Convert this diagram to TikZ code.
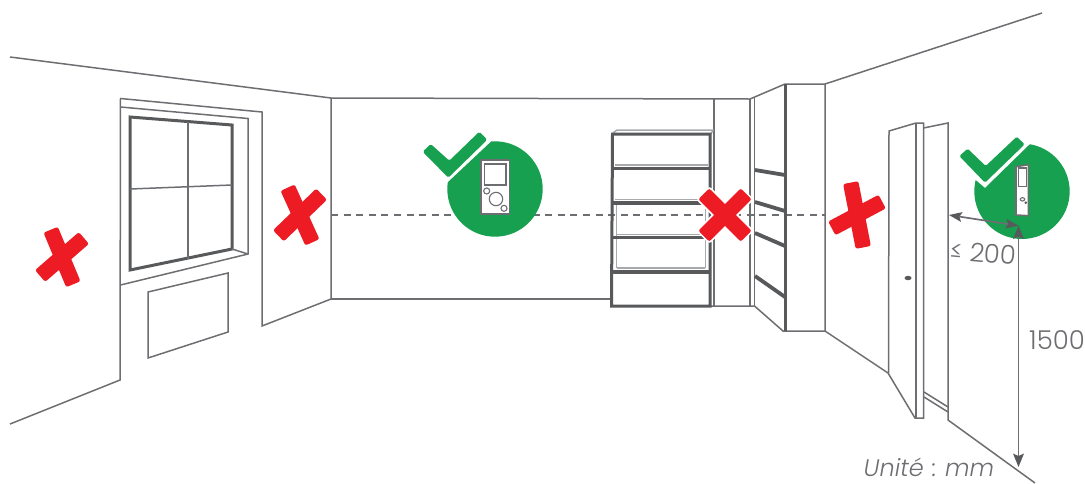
\documentclass[tikz,border=0pt]{standalone}
\usepackage{fontspec}
\setmainfont{Poppins Light}
\setsansfont{Poppins}
\definecolor{linegray}{HTML}{6D6E71}
\definecolor{darkgray}{HTML}{58595B}
\definecolor{lightgray2}{HTML}{A7A9AC}
\definecolor{crossred}{HTML}{ED1C24}
\definecolor{okgreen}{HTML}{17A04F}
\tikzset{
  wall/.style={draw=linegray,line width=1.5pt,line join=miter},
  thick wall/.style={draw=darkgray,line width=3pt},
  board/.style={draw=darkgray,line width=3.8pt},
  light board/.style={draw=lightgray2,line width=1.5pt},
  bar/.style={fill=crossred,rounded corners=2.2pt,inner sep=0pt,minimum height=15.5pt},
  halo bar/.style={fill=white,rounded corners=3pt,inner sep=0pt,minimum height=19pt},
  disc/.style={fill=okgreen},
  check/.style={fill=okgreen,rounded corners=1.5pt},
  device/.style={fill=white,draw=linegray,line width=1.6pt},
  devline/.style={draw=linegray,line width=1.1pt},
  dim/.style={draw=linegray,line width=1.7pt},
  dimhead/.style={fill=darkgray},
  label/.style={text=linegray,font=\fontsize{26}{26}\selectfont,inner sep=0pt}
}
\begin{document}
\begin{tikzpicture}[x=1pt,y=-1pt]
\useasboundingbox (0,0) rectangle (1085,483);
% dashed level line
\draw[linegray,line width=1.05pt,dash pattern=on 7pt off 5.6pt] (331,215) -- (825,215);
% left wall
\draw[wall] (10,57) -- (331,98) -- (750,99) -- (785,84) -- (825,84) -- (1042,13);
\draw[wall] (10,424) -- (120,380) -- (120.5,98.5) -- (262,112) -- (262,326) -- (331,299) -- (331,98);
\draw[wall] (120.5,107) -- (248,118.5) -- (248,254) -- (120.5,285);
% window
\draw[thick wall] (130,117) -- (232,125) -- (232,249) -- (130,270) -- cycle;
\draw[wall] (188,122) -- (188,259);
\draw[wall] (130,189) -- (232,185);
\draw[wall] (232,249) -- (248,254);
% radiator
\draw[wall] (148,292) -- (228,273) -- (228,332) -- (148,358) -- cycle;
% back wall floor and column
\draw[wall] (331,299) -- (611,299);
\draw[wall] (714,99) -- (714,306);
\draw[wall] (750,99) -- (750,306);
\draw[wall] (754.5,97) -- (754.5,306);
\draw[wall] (611,306) -- (754.5,306) -- (783,331) -- (825,331) -- (825,84);
\draw[thick wall] (785,84) -- (785,331);
% side shelves
\draw[board] (755,170) -- (785,175);
\draw[board] (755,202) -- (785,211);
\draw[board] (755,233) -- (785,246);
\draw[board] (755,276) -- (785,297);
% bookcase
\draw[light board] (613,133) -- (617,130) -- (713,130) -- (711,134);
\draw[light board,line width=2pt] (615,165.3) -- (708,165.3);
\draw[light board,line width=1pt] (615,199.7) -- (708,199.7);
\draw[light board,line width=1pt] (617,234) -- (705,234);
\draw[light board,line width=2pt] (617,268.3) -- (705,268.3);
\draw[light board,line width=1pt] (616,205) -- (616,268);
\draw[light board,line width=1pt] (705,205) -- (705,268);
\draw[thick wall] (612.5,134) -- (710,134) -- (710,306) -- (611.5,306) -- cycle;
\draw[board] (613,168.5) -- (710,168.5);
\draw[board] (613,203) -- (710,203);
\draw[board] (613,237.5) -- (710,237.5);
\draw[board] (613,271.7) -- (710,271.7);
% right wall and door
\draw[wall] (825,331) -- (888,373) -- (915,418) -- (923.5,418) -- (923.5,123) -- (916,123) -- (889,131) -- (888.5,373);
\draw[wall] (916,123) -- (916,418);
\draw[wall] (923.5,128) -- (948,123) -- (948,420) -- (1035,483);
\draw[wall] (924,392) -- (948,407);
\draw[wall] (924,397) -- (948,412);
\fill[darkgray] (908,278) ellipse (3.5pt and 2.2pt);
% green disc 1
\begin{scope}
\clip (447.7,182.3) -- (491.7,141) -- (560,77) -- (600,300) -- (400,300) -- (400,226.9) -- cycle;
\fill[disc] (495,189) circle (47.7pt);
\end{scope}
\fill[check] (422.7,151.7) -- (430.7,144) -- (449.3,160.7) -- (479.3,131.7) -- (487.3,139.7) -- (448.3,177.7) -- cycle;
\draw[device] (480.7,160) rectangle (509.3,214);
\draw[devline] (484.5,164) rectangle (506,185);
\draw[devline] (486.7,191) circle (3pt);
\draw[devline] (496,199) circle (6.7pt);
\draw[devline] (504,208.3) circle (3pt);
% green disc 2
\begin{scope}
\clip (965,171) -- (985,188) -- (1029,145) -- (1079,96) -- (1100,300) -- (960,300) -- cycle;
\fill[disc] (1022,191.3) circle (47.7pt);
\end{scope}
\fill[check] (959.3,156) -- (967.7,148.7) -- (985.7,166) -- (1016.7,136.7) -- (1024.7,144.3) -- (985,182.7) -- cycle;
\draw[device] (1016,166.7) -- (1028.3,164.7) -- (1028.3,215.7) -- (1016,215) -- cycle;
\draw[devline] (1018.5,168) rectangle (1026.3,186.7);
\draw[devline] (1022.5,199.3) ellipse (2.2pt and 1.7pt);
\fill[darkgray] (1025.8,202.7) circle (1.4pt);
% dimensions
\coordinate (doorEdge) at (959.4,216.6);
\coordinate (markH) at (1008.1,224.1);
\coordinate (markV) at (1018.5,236.5);
\coordinate (floorEnd) at (1018.5,456);
\draw[dim] (doorEdge) -- (markH);
\draw[dim] (markV) -- (floorEnd);
\fill[dimhead] (949,215) -- (962.6,212.1) -- (959.4,216.6) -- (961,221.9) -- cycle;
\fill[dimhead] (1018.5,225.7) -- (1006.5,218.8) -- (1008.1,224.1) -- (1004.9,228.6) -- cycle;
\fill[dimhead] (1018.5,225.7) -- (1013,239) -- (1018.5,236.5) -- (1024,239) -- cycle;
\fill[dimhead] (1018.5,467) -- (1013,453.5) -- (1018.5,456) -- (1024,453.5) -- cycle;
\node[label,rotate=-5] (d200) at (983.5,253) {≤ 200};
\node[label] (d1500) at (1057,340) {1500};
\node[label,font=\fontsize{24}{24}\selectfont\itshape] (unit) at (929,467.5) {Unité\kern1.5pt{} : \kern-1pt mm};
% red crosses
\node[bar,minimum width=59pt,rotate=-67.4] (x1a) at (62,257) {};
\node[bar,minimum width=58pt,rotate=41] (x1b) at (62,257) {};
\node[bar,minimum width=60pt,rotate=-65.6] (x2a) at (300,215) {};
\node[bar,minimum width=60pt,rotate=44] (x2b) at (300,215) {};
\node[halo bar,minimum width=63pt,rotate=-45] (x3a) at (725,215) {};
\node[halo bar,minimum width=63pt,rotate=45] (x3b) at (725,215) {};
\node[bar,minimum width=60pt,rotate=-45] (x3c) at (725,215) {};
\node[bar,minimum width=60pt,rotate=45] (x3d) at (725,215) {};
\node[bar,minimum width=66pt,rotate=-79] (x4a) at (857,215) {};
\node[bar,minimum width=57pt,rotate=28] (x4b) at (857,215) {};
\end{tikzpicture}
\end{document}
